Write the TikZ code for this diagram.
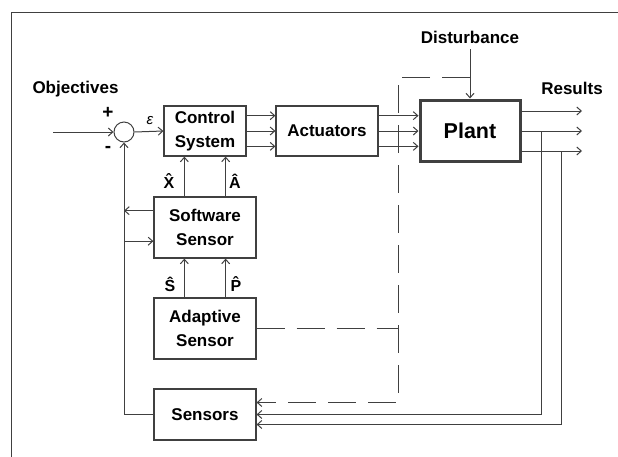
\documentclass[tikz,border=0pt]{standalone}
\usepackage{fontspec}
\setmainfont{Liberation Sans}
\usetikzlibrary{arrows.meta,calc}
\begin{document}
\begin{tikzpicture}[x=1pt,y=-1pt,
  ln/.style={draw=black!75, line width=1pt},
  arr/.style={ln, -{Straight Barb[length=4.5pt,width=8pt]}},
  dsh/.style={ln, dash pattern=on 28pt off 12pt},
  box/.style={ln, line width=1.2pt, fill=white, align=center, inner sep=0pt,
    font=\bfseries\fontsize{17}{24.5}\selectfont},
  lbl/.style={font=\bfseries\fontsize{17}{20}\selectfont, inner sep=0pt},
  sgn/.style={font=\bfseries\fontsize{19}{20}\selectfont, inner sep=0pt},
  hat/.style={font=\bfseries\fontsize{16}{19}\selectfont, inner sep=0pt, anchor=base}]
\useasboundingbox (0,0) rectangle (618,456);
% frame
\draw[ln] (11,460) -- (11,12) -- (620,12);
% nodes
\node[circle, ln, minimum size=20pt, inner sep=0pt] (sum) at (124,132) {};
\node[box, minimum width=82pt, minimum height=50pt] (cs) at (205,131) {Control\\System};
\node[box, minimum width=102pt, minimum height=50pt] (act) at (327,131) {Actuators};
\node[box, line width=3pt, minimum width=100pt, minimum height=61pt,
  font=\bfseries\fontsize{21.5}{24}\selectfont] (plant) at (470,130.5) {Plant};
\node[box, minimum width=102pt, minimum height=61pt] (sw) at (205,227.5) {Software\\Sensor};
\node[box, minimum width=102pt, minimum height=61pt] (ad) at (205,328.5) {Adaptive\\Sensor};
\node[box, minimum width=102pt, minimum height=51pt] (sen) at (205,414.5) {Sensors};
% labels
\node[lbl] (obj) at (75.5,89) {Objectives};
\node[sgn] (plus) at (108,113) {+};
\node[sgn] (minus) at (108,149) {-};
\node[inner sep=0pt, font=\itshape\fontsize{15}{18}\selectfont] (eps) at (150,121) {ε};
\node[lbl] (dist) at (470,37) {Disturbance};
\node[lbl] (res) at (572,88) {Results};
\node[hat] (xh) at (169,188) {\^{X}};
\node[hat] (ah) at (235,188) {\^{A}};
\node[hat] (sh) at (170,291) {\^{S}};
\node[hat] (ph) at (236,291) {\^{P}};
% coordinates
\coordinate (in) at (53,132);
\coordinate (o1) at (582,111);
\coordinate (o2) at (582,131);
\coordinate (o3) at (582,151);
\coordinate (f1) at (541,131);
\coordinate (f2) at (561,151);
\coordinate (dtop) at (470,77);
\coordinate (dcorner) at (398,77);
\coordinate (w1) at ($(sw.north west)!0.23!(sw.south west)$);
\coordinate (w2) at ($(sw.north west)!0.72!(sw.south west)$);
% main path
\draw[arr] (in) -- (sum.west);
\draw[arr] (sum.east) -- (cs.west);
\foreach \f in {0.2,0.5,0.8}{
  \draw[arr] ($(cs.north east)!\f!(cs.south east)$) coordinate (p) -- (p -| act.west);
  \draw[arr] ($(act.north east)!\f!(act.south east)$) coordinate (q) -- (q -| plant.west);
}
\draw[arr] (plant.east |- o1) -- (o1);
\draw[arr] (plant.east |- o2) -- (o2);
\draw[arr] (plant.east |- o3) -- (o3);
\draw[arr] ($(dist.south)+(0,6)$) -- (plant.north);
% feedback
\draw[arr] (f1) |- (sen.east);
\draw[arr] (f2) |- ($(sen.east)+(0,10)$);
\draw[arr] (sen.west) -| (sum.south);
% estimates
\draw[arr] ($(sw.north west)!0.3!(sw.north east)$) coordinate (x1) -- (x1 |- cs.south);
\draw[arr] ($(sw.north west)!0.7!(sw.north east)$) coordinate (x2) -- (x2 |- cs.south);
\draw[arr] ($(ad.north west)!0.3!(ad.north east)$) coordinate (x3) -- (x3 |- sw.south);
\draw[arr] ($(ad.north west)!0.7!(ad.north east)$) coordinate (x4) -- (x4 |- sw.south);
\draw[arr] (w1) -- (w1 -| sum.south);
\draw[arr] (w2 -| sum.south) -- (w2);
% dashed
\draw[dsh, -{Straight Barb[length=4.5pt,width=8pt]}] (dtop) -- (dcorner) |- ($(sen.east)+(0,-12)$);
\draw[dsh] (ad.east) -- (ad.east -| dcorner);
\end{tikzpicture}
\end{document}
